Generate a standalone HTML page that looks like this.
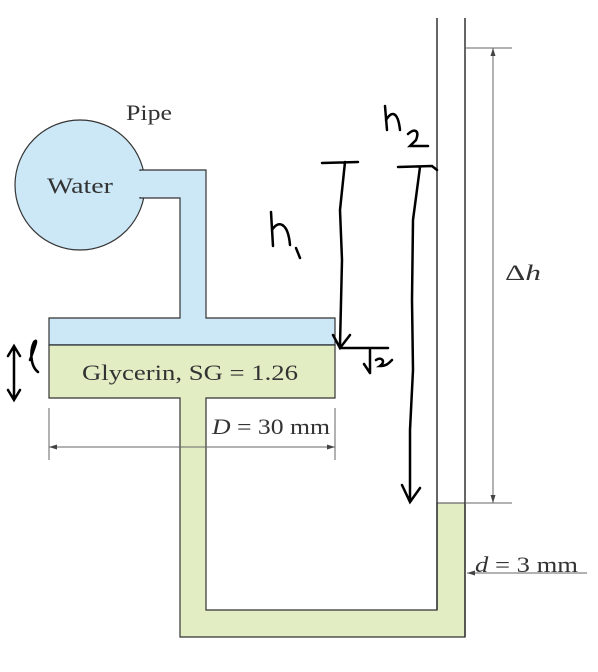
<!DOCTYPE html>
<html><head><meta charset="utf-8"><style>
html,body{margin:0;padding:0;background:#fff;}
svg{display:block;}
.t{font-family:"Liberation Serif",serif;fill:#333;}
</style></head><body>
<svg width="598" height="672" viewBox="0 0 598 672">
<g fill="#cce8f7" stroke="#333" stroke-width="1.2">
<circle cx="80" cy="185" r="65"/>
<path d="M140 170 L206 170 L206 318 L335 318 L335 345 L49 345 L49 318 L180 318 L180 198 L140 198 Z"/>
</g>
<rect x="139" y="171" width="20" height="26" fill="#cce8f7"/>
<line x1="49" y1="345" x2="335" y2="345" stroke="#4a7fb5" stroke-width="1.5"/>
<path d="M49 345 L335 345 L335 398 L206 398 L206 610 L437 610 L437 503 L465 503 L465 637 L180 637 L180 398 L49 398 Z" fill="#e3edc4" stroke="#333" stroke-width="1.2"/>
<line x1="437" y1="503" x2="465" y2="503" stroke="#777" stroke-width="1"/>
<line x1="437" y1="18" x2="437" y2="610" stroke="#333" stroke-width="1.5"/>
<line x1="465" y1="18" x2="465" y2="637" stroke="#333" stroke-width="1.5"/>
<text class="t" x="126" y="120" font-size="22" textLength="46" lengthAdjust="spacingAndGlyphs">Pipe</text>
<text class="t" x="47" y="193" font-size="22" textLength="66" lengthAdjust="spacingAndGlyphs">Water</text>
<text class="t" x="82" y="380" font-size="22" textLength="216" lengthAdjust="spacingAndGlyphs">Glycerin, SG = 1.26</text>
<text class="t" x="212" y="434" font-size="22" textLength="118" lengthAdjust="spacingAndGlyphs"><tspan font-style="italic">D</tspan> = 30 mm</text>
<text class="t" x="505" y="280" font-size="22" textLength="36" lengthAdjust="spacingAndGlyphs">Δ<tspan font-style="italic">h</tspan></text>
<text class="t" x="475" y="572" font-size="22" textLength="103" lengthAdjust="spacingAndGlyphs"><tspan font-style="italic">d</tspan> = 3 mm</text>
<g stroke="#666" stroke-width="1" fill="#444">
<line x1="49" y1="408" x2="49" y2="460"/><line x1="335" y1="408" x2="335" y2="460"/>
<line x1="49" y1="447" x2="335" y2="447"/>
<path d="M49 447 l8 -2.5 v5z M335 447 l-8 -2.5 v5z" stroke="none"/>
<line x1="465" y1="48" x2="512" y2="48"/><line x1="465" y1="503" x2="512" y2="503"/>
<line x1="493" y1="48" x2="493" y2="503"/>
<path d="M493 48 l-2.5 8 h5z M493 503 l-2.5 -8 h5z" stroke="none"/>
<line x1="467" y1="573" x2="587" y2="573"/>
<path d="M467 573 l8 -2.5 v5z" stroke="none"/>
</g>
<g stroke="#000" stroke-width="2.5" fill="none" stroke-linecap="round">
<path d="M322 163 L358 162 M345 162 L340 210 L342 260 L340 345 M333 335 L340 348 L350 335"/>
<path d="M340 348 L388 348 M370 350 L370 372 M364 364 L370 373 M376 360 C382 356 386 362 380 366 C386 366 388 364 392 360"/>
<path d="M398 167 L432 166 L437 170 M420 167 L413 220 L412 300 L413 370 L410 430 L410 500 M402 485 L410 502 L420 488"/>
<path d="M385 106 L387 130 M386 120 C392 110 398 112 400 130 M408 134 C414 128 420 130 416 140 L410 146 L428 146"/>
<path d="M271 212 L273 246 M272 230 C278 220 288 222 290 245 M296 248 L300 258"/>
<path d="M14 348 L14 398 M8 356 L14 346 L20 356 M8 390 L14 400 L20 390 M30 360 C36 344 38 338 34 342 C30 350 30 366 38 372"/>
</g>
</svg>
</body></html>
